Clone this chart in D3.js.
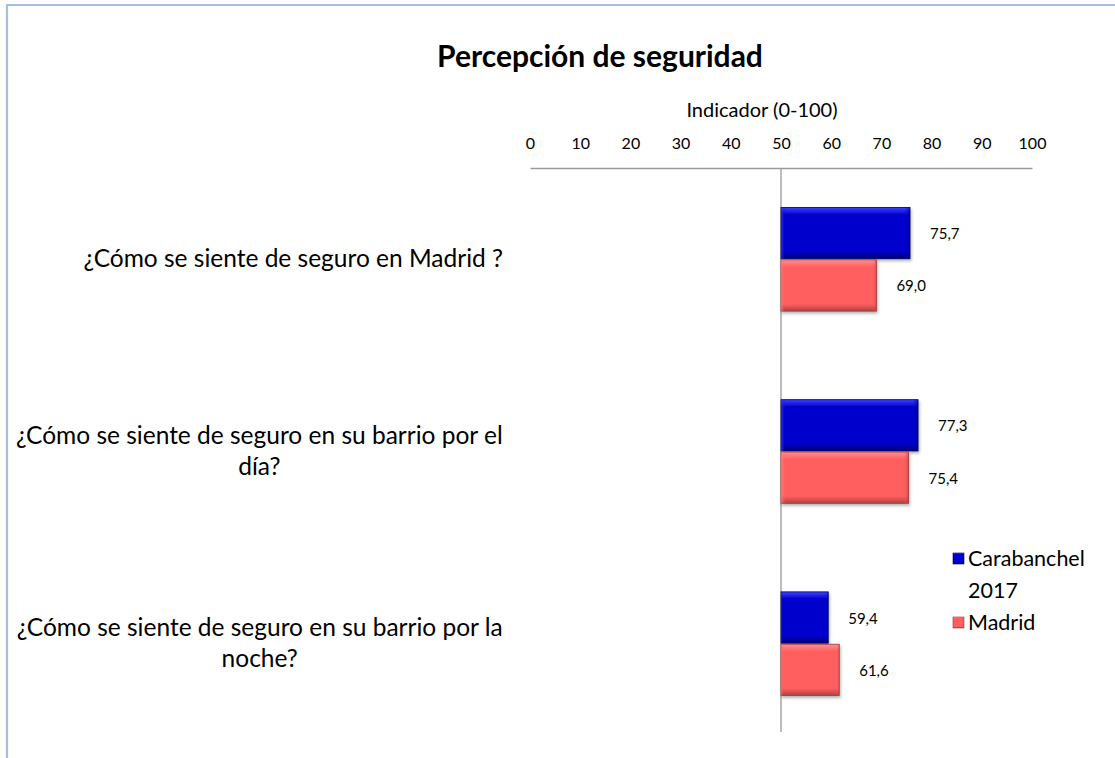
<!DOCTYPE html>
<html><head><meta charset="utf-8">
<script src="https://cdn.jsdelivr.net/npm/d3@7"></script>
<style>body{margin:0;background:#fff}svg{display:block}</style>
</head><body>
<svg id="c" width="1115" height="758"></svg>
<script>
const categories = ["¿Cómo se siente de seguro en Madrid ?",
  "¿Cómo se siente de seguro en su barrio por el día?",
  "¿Cómo se siente de seguro en su barrio por la noche?"];
const labelLines = [["¿Cómo se siente de seguro en Madrid ?"],
  ["¿Cómo se siente de seguro en su barrio por el", "día?"],
  ["¿Cómo se siente de seguro en su barrio por la", "noche?"]];
const seriesNames = ["Carabanchel 2017", "Madrid"];
const carabanchel = [75.7, 77.3, 59.4];
const madrid = [69.0, 75.4, 61.6];
const tickValues = [0,10,20,30,40,50,60,70,80,90,100];
const axisTitle = "Indicador (0-100)";
const title = "Percepción de seguridad";

const FONT = "Lato, 'Open Sans', sans-serif";
const svg = d3.select("#c");
const defs = svg.append("defs");
const colors = [
  {base:"#0000cc", light:"#4040ff", dark:"#000070", stroke:"#000060", id:"b"},
  {base:"#ff5f5f", light:"#ff9090", dark:"#b04040", stroke:"#9a3636", id:"r"}
];
colors.forEach(c=>{
  const g = defs.append("linearGradient").attr("id","g"+c.id).attr("x1",0).attr("y1",0).attr("x2",0).attr("y2",1);
  g.append("stop").attr("offset","0").attr("stop-color",c.light);
  g.append("stop").attr("offset","0.14").attr("stop-color",c.base);
  g.append("stop").attr("offset","0.86").attr("stop-color",c.base);
  g.append("stop").attr("offset","1").attr("stop-color",c.dark);
  const h = defs.append("linearGradient").attr("id","h"+c.id).attr("x1",0).attr("y1",0).attr("x2",1).attr("y2",0);
  h.append("stop").attr("offset","0").attr("stop-color",c.light).attr("stop-opacity",0.6);
  h.append("stop").attr("offset","0.04").attr("stop-color",c.base).attr("stop-opacity",0);
  h.append("stop").attr("offset","0.96").attr("stop-color",c.base).attr("stop-opacity",0);
  h.append("stop").attr("offset","1").attr("stop-color",c.dark).attr("stop-opacity",0.6);
});
const f = defs.append("filter").attr("id","sh").attr("x","-10%").attr("y","-10%").attr("width","130%").attr("height","140%");
f.append("feDropShadow").attr("dx",1).attr("dy",2).attr("stdDeviation",1.5).attr("flood-color","#000").attr("flood-opacity",0.3);

// border
svg.append("path").attr("d","M7,758 V5 H1115").attr("fill","none").attr("stroke","#a7bfde").attr("stroke-width",2.2);

// title
svg.append("text").attr("x",600).attr("y",67).attr("text-anchor","middle")
  .attr("font-family",FONT).attr("font-weight","bold").attr("font-size",30).text(title);

const x = d3.scaleLinear().domain([0,100]).range([530,1032]);
const y = d3.scaleBand().domain(categories).range([168,735]).paddingInner(0.45).paddingOuter(0.2);
const sub = d3.scaleBand().domain(seriesNames).range([0,y.bandwidth()]).padding(0.02);

// axis
const axisG = svg.append("g").attr("transform","translate(0,168)")
  .call(d3.axisTop(x).tickValues(tickValues).tickSize(0).tickPadding(19));
axisG.select(".domain").attr("stroke","#9a9a9a").attr("stroke-width",1.3);
axisG.selectAll("text").attr("font-family",FONT).attr("font-size",16).attr("fill","#000");
svg.append("text").attr("x",762).attr("y",117).attr("text-anchor","middle")
  .attr("font-family",FONT).attr("font-size",20).text(axisTitle);

// vertical baseline at 50
svg.append("line").attr("x1",x(50)).attr("x2",x(50)).attr("y1",168).attr("y2",732)
  .attr("stroke","#9a9a9a").attr("stroke-width",1.3);

// bars
const seriesData = [carabanchel, madrid];
seriesData.forEach((vals,si)=>{
  const c = colors[si];
  vals.forEach((v,i)=>{
    const cat = categories[i];
    const y0 = y(cat)+sub(seriesNames[si]);
    const h = sub.bandwidth();
    const x0 = x(50), x1 = x(v);
    const g = svg.append("g").attr("filter","url(#sh)");
    g.append("rect").attr("x",x0).attr("y",y0).attr("width",x1-x0).attr("height",h)
      .attr("fill","url(#g"+c.id+")").attr("stroke",c.stroke).attr("stroke-width",0.8);
    g.append("rect").attr("x",x0).attr("y",y0).attr("width",x1-x0).attr("height",h)
      .attr("fill","url(#h"+c.id+")");
    svg.append("text").attr("x",x1+20).attr("y",y0+h/2+6)
      .attr("font-family",FONT).attr("font-size",15)
      .text(d3.format(".1f")(v).replace(".",","));
  });
});

// category labels
const lblSize = 24.5;
const measure = document.createElement("canvas").getContext("2d");
measure.font = lblSize+"px "+FONT;
labelLines.forEach((lines,i)=>{
  const cy = y(categories[i]) + y.bandwidth()/2;
  const bw = d3.max(lines, l=>measure.measureText(l).width);
  const cx = 503 - bw/2;
  const lh = 31;
  lines.forEach((l,j)=>{
    svg.append("text").attr("x",cx).attr("y",cy + (j-(lines.length-1)/2)*lh + 8)
      .attr("text-anchor","middle").attr("font-family",FONT).attr("font-size",lblSize).text(l);
  });
});

// legend
const lg = svg.append("g");
const legendRows = [{name:["Carabanchel","2017"], y:558}, {name:["Madrid"], y:622}];
legendRows.forEach((r,i)=>{
  const c = colors[i];
  lg.append("rect").attr("x",953).attr("y",r.y-5).attr("width",11).attr("height",11)
    .attr("fill","url(#g"+c.id+")").attr("stroke",c.stroke).attr("stroke-width",0.6);
  r.name.forEach((t,j)=>{
    lg.append("text").attr("x",968).attr("y",r.y+8+j*32).attr("font-family",FONT).attr("font-size",21.5).text(t);
  });
});
</script>
</body></html>
